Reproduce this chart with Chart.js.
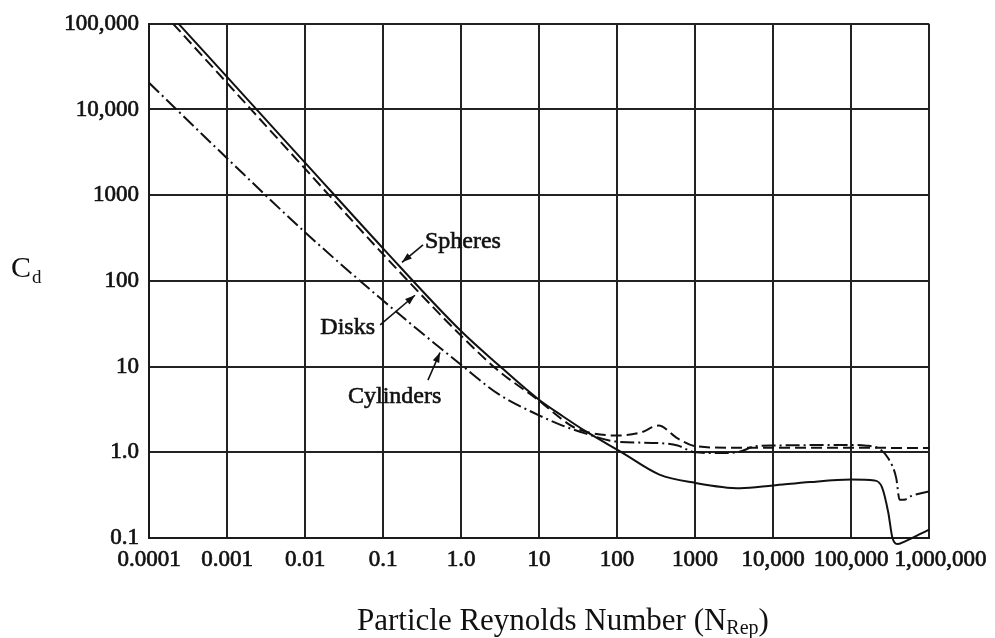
<!DOCTYPE html>
<html>
<head>
<meta charset="utf-8">
<title>Drag coefficient vs particle Reynolds number</title>
<script src="https://cdn.jsdelivr.net/npm/chart.js@4.4.1/dist/chart.umd.min.js"></script>
<style>
    html, body { margin: 0; padding: 0; background: #fff; }
</style>
</head>
<body>
<canvas id="drag_widget" width="995" height="638"></canvas>
<script>
// axis ticks (one per decade) and the text printed under / beside them
const reTicks = [0.0001, 0.001, 0.01, 0.1, 1, 10, 100, 1000, 10000, 100000, 1000000];
const reTickLabels = ["0.0001", "0.001", "0.01", "0.1", "1.0", "10", "100", "1000", "10,000", "100,000", "    1,000,000"];
const cdTicks = [0.1, 1, 10, 100, 1000, 10000, 100000];
const cdTickLabels = ["0.1", "1.0", "10", "100", "1000", "10,000", "100,000"];

// spheres (solid line)
const sphereRe = [0.00024, 0.001, 0.01, 0.1, 1, 3, 10, 20, 40, 115, 350, 1000, 3800, 10000, 30000, 100000, 200000, 250000, 300000, 340000, 400000, 500000, 750000, 1000000];
const sphereCd = [100000, 24000, 2400, 240, 26, 10.5, 4.1, 2.65, 1.75, 1.0, 0.55, 0.44, 0.38, 0.41, 0.45, 0.48, 0.47, 0.39, 0.2, 0.1, 0.085, 0.092, 0.11, 0.125];

// disks (dashed line)
const diskRe = [0.000204, 0.001, 0.01, 0.1, 1, 3, 10, 20, 30, 100, 200, 340, 600, 1000, 3000, 10000, 100000, 1000000];
const diskCd = [100000, 20400, 2040, 205, 23, 9, 4.0, 2.4, 1.9, 1.57, 1.7, 2.05, 1.45, 1.18, 1.13, 1.13, 1.13, 1.12];

// cylinders (dash-dot line)
const cylinderRe = [0.0001, 0.001, 0.01, 0.1, 1, 3, 10, 20, 40, 100, 350, 600, 1000, 2000, 3500, 6000, 10000, 100000, 150000, 230000, 300000, 380000, 420000, 480000, 600000, 1000000];
const cylinderCd = [20500, 2700, 370, 59, 10.5, 4.8, 2.7, 2.05, 1.65, 1.33, 1.28, 1.2, 1.0, 0.98, 1.0, 1.18, 1.2, 1.22, 1.2, 1.1, 0.85, 0.5, 0.28, 0.28, 0.31, 0.35];

// curve names with their pointer arrows, in data units (Re, Cd)
const curveNotes = [
    { text: "Spheres", at: [0.345, 285], align: "left", tail: [0.326, 263], tip: [0.175, 165] },
    { text: "Disks", at: [0.079, 28.4], align: "right", tail: [0.092, 30.7], tip: [0.257, 68] },
    { text: "Cylinders", at: [0.0356, 4.43], align: "left", tail: [0.377, 6.95], tip: [0.538, 14.6] }
];

const INK = "#111";
const SERIF = '"Liberation Serif", "Times New Roman", serif';

class DragWidget {
    constructor() {
        this.canvas = null;
        this.chart = null;
    }

    toPoints(xs, ys) {
        //pair up the x and y arrays for chart.js
        return xs.map((x, i) => ({ x: x, y: ys[i] }));
    }

    makeDataset(label, xs, ys, dash) {
        return {
            label: label,
            data: this.toPoints(xs, ys),
            borderColor: INK,
            borderWidth: 2,
            borderDash: dash,
            pointRadius: 0,
            fill: false,
            cubicInterpolationMode: "monotone"
        };
    }

    //texts and arrows that chart.js has no option for
    notesPlugin() {
        return {
            id: "dragNotes",
            afterDraw(chart) {
                const ctx = chart.ctx;
                const xs = chart.scales.x;
                const ys = chart.scales.y;
                const area = chart.chartArea;
                ctx.save();
                ctx.fillStyle = INK;
                ctx.strokeStyle = INK;

                //curve names + arrows
                ctx.font = "24px " + SERIF;
                ctx.textBaseline = "middle";
                curveNotes.forEach(n => {
                    const lx = xs.getPixelForValue(n.at[0]), ly = ys.getPixelForValue(n.at[1]);
                    ctx.textAlign = n.align;
                    ctx.lineWidth = 0.6;
                    ctx.fillText(n.text, lx, ly);
                    ctx.strokeText(n.text, lx, ly);
                    const x0 = xs.getPixelForValue(n.tail[0]), y0 = ys.getPixelForValue(n.tail[1]);
                    const x1 = xs.getPixelForValue(n.tip[0]), y1 = ys.getPixelForValue(n.tip[1]);
                    ctx.lineWidth = 1.6;
                    ctx.beginPath();
                    ctx.moveTo(x0, y0);
                    ctx.lineTo(x1, y1);
                    ctx.stroke();
                    const a = Math.atan2(y1 - y0, x1 - x0);
                    ctx.beginPath();
                    ctx.moveTo(x1, y1);
                    ctx.lineTo(x1 - 10 * Math.cos(a) + 3.5 * Math.sin(a), y1 - 10 * Math.sin(a) - 3.5 * Math.cos(a));
                    ctx.lineTo(x1 - 10 * Math.cos(a) - 3.5 * Math.sin(a), y1 - 10 * Math.sin(a) + 3.5 * Math.cos(a));
                    ctx.closePath();
                    ctx.fill();
                });

                //y axis name C_d, written upright to the left of the ticks
                ctx.textAlign = "left";
                ctx.textBaseline = "alphabetic";
                ctx.font = "30px " + SERIF;
                ctx.fillText("C", 11, 277);
                const cw = ctx.measureText("C").width;
                ctx.font = "19px " + SERIF;
                ctx.fillText("d", 11 + cw + 1, 283);

                //x axis name with the Re_p subscript
                const main = "Particle Reynolds Number (N";
                let tx = area.left + 208;
                ctx.font = "31px " + SERIF;
                ctx.fillText(main, tx, 630);
                tx += ctx.measureText(main).width;
                ctx.font = "20px " + SERIF;
                ctx.fillText("Rep", tx, 634);
                tx += ctx.measureText("Rep").width;
                ctx.font = "31px " + SERIF;
                ctx.fillText(")", tx, 630);
                ctx.restore();
            }
        };
    }

    //Start the widget, initialize graph
    start() {
        this.canvas = document.querySelector("#drag_widget").getContext("2d");
        const grid = { color: "#222", lineWidth: 2, drawTicks: false };
        const border = { color: "#1a1a1a", width: 2 };
        const tickFont = { family: SERIF, size: 23 };
        this.chart = new Chart(this.canvas, {
            type: "line",
            data: {
                datasets: [
                    // spheres dip below the bottom edge near Re = 400,000
                    Object.assign(this.makeDataset("Spheres", sphereRe, sphereCd, []), { clip: { left: 1, top: 1, right: 1, bottom: 14 } }),
                    this.makeDataset("Disks", diskRe, diskCd, [11, 5]),
                    this.makeDataset("Cylinders", cylinderRe, cylinderCd, [14, 4, 2, 4])
                ]
            },
            options: {
                responsive: false,
                animation: false,
                devicePixelRatio: 1,
                layout: { padding: { top: 17, right: 66, bottom: 0, left: 0 } },
                plugins: { legend: { display: false }, tooltip: { enabled: false } },
                scales: {
                    x: {
                        type: "logarithmic",
                        min: reTicks[0],
                        max: reTicks[reTicks.length - 1],
                        grid: grid,
                        border: border,
                        afterBuildTicks: s => { s.ticks = reTicks.map(v => ({ value: v })); },
                        afterFit: s => { s.height = 100; },
                        ticks: {
                            autoSkip: false,
                            maxRotation: 0,
                            padding: 8,
                            color: INK,
                            textStrokeColor: INK,
                            textStrokeWidth: 0.7,
                            font: tickFont,
                            callback: v => reTickLabels[reTicks.indexOf(v)]
                        }
                    },
                    y: {
                        type: "logarithmic",
                        min: cdTicks[0],
                        max: cdTicks[cdTicks.length - 1],
                        grid: grid,
                        border: border,
                        afterBuildTicks: s => { s.ticks = cdTicks.map(v => ({ value: v })); },
                        afterFit: s => { s.width = 149; },
                        ticks: {
                            autoSkip: false,
                            padding: 10,
                            color: INK,
                            textStrokeColor: INK,
                            textStrokeWidth: 0.7,
                            font: tickFont,
                            callback: v => cdTickLabels[cdTicks.indexOf(v)]
                        }
                    }
                }
            },
            plugins: [this.notesPlugin()]
        });
    }
}

const widget = new DragWidget();
widget.start();
</script>
</body>
</html>
